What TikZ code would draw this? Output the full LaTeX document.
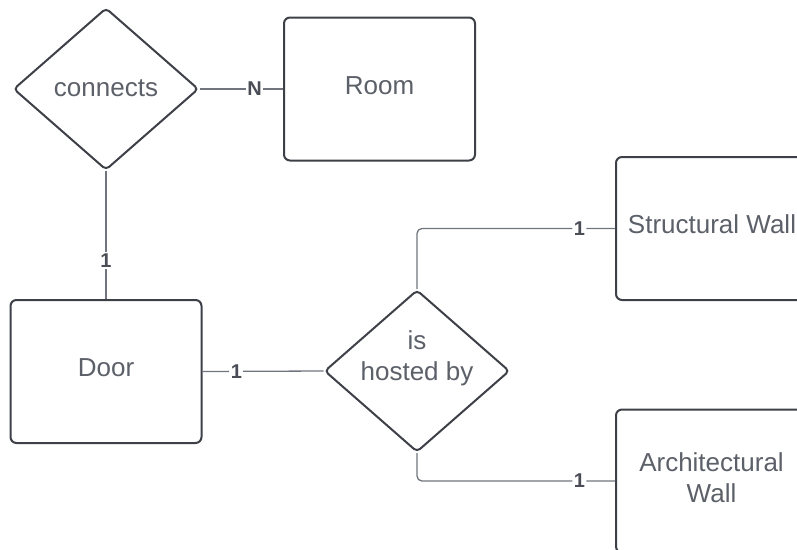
\documentclass[tikz,border=0pt]{standalone}
\usepackage{fontspec}
\setmainfont{Liberation Sans}
\usetikzlibrary{shapes.geometric}
\definecolor{edgeline}{HTML}{3D4047}
\definecolor{linkline}{HTML}{70747C}
\definecolor{bodytext}{HTML}{5C6068}
\definecolor{cardtext}{HTML}{4A4D55}
\tikzset{
  entity/.style={draw=edgeline, line width=2pt, rounded corners=6pt, fill=white,
    minimum width=191pt, minimum height=143pt, inner sep=0pt},
  relation/.style={draw=edgeline, line width=2pt, diamond, rounded corners=4pt, fill=white,
    minimum width=185pt, minimum height=162pt, inner sep=0pt},
  caption/.style={text=bodytext, font=\fontsize{26}{31}\selectfont, align=center, inner sep=0pt},
  link/.style={draw=linkline, line width=1.3pt},
  card/.style={text=cardtext, font=\bfseries\fontsize{20}{20}\selectfont, fill=white, inner sep=1.5pt}
}
\begin{document}
\begin{tikzpicture}[x=1pt, y=-1pt]
  \useasboundingbox (0,0) rectangle (797,549);
  \clip (0,0) rectangle (797,549);

  % entities
  \node[entity] (room) at (379.5,89) {};
  \node[entity] (door) at (106,371.5) {};
  \node[entity] (swall) at (711.5,228.5) {};
  \node[entity] (awall) at (711.5,481) {};

  % relationships
  \node[relation] (conn) at (106,89) {};
  \node[relation] (host) at (417,371) {};

  % connectors with cardinalities
  \draw[link] (conn.east) -- node[card, pos=0.66] {N} (room.west);
  \draw[link] (conn.south) -- node[card, pos=0.70] {1} (door.north);
  \draw[link] (door.east) -- node[card, pos=0.28] {1} (host.west);
  \draw[link, rounded corners=5pt] (host.north) |- node[card, pos=0.91] {1} (swall.west);
  \draw[link, rounded corners=5pt] (host.south) |- node[card, pos=0.91] {1} (awall.west);

  % texts
  \node[caption] (troom) at (379.5,86) {Room};
  \node[caption] (tdoor) at (106,368) {Door};
  \node[caption] (tswall) at (712,224) {Structural Wall};
  \node[caption] (tawall) at (711.5,478) {Architectural\\Wall};
  \node[caption] (tconn) at (106,88) {connects};
  \node[caption] (thost) at (417,358) {is\\hosted by};
\end{tikzpicture}
\end{document}
